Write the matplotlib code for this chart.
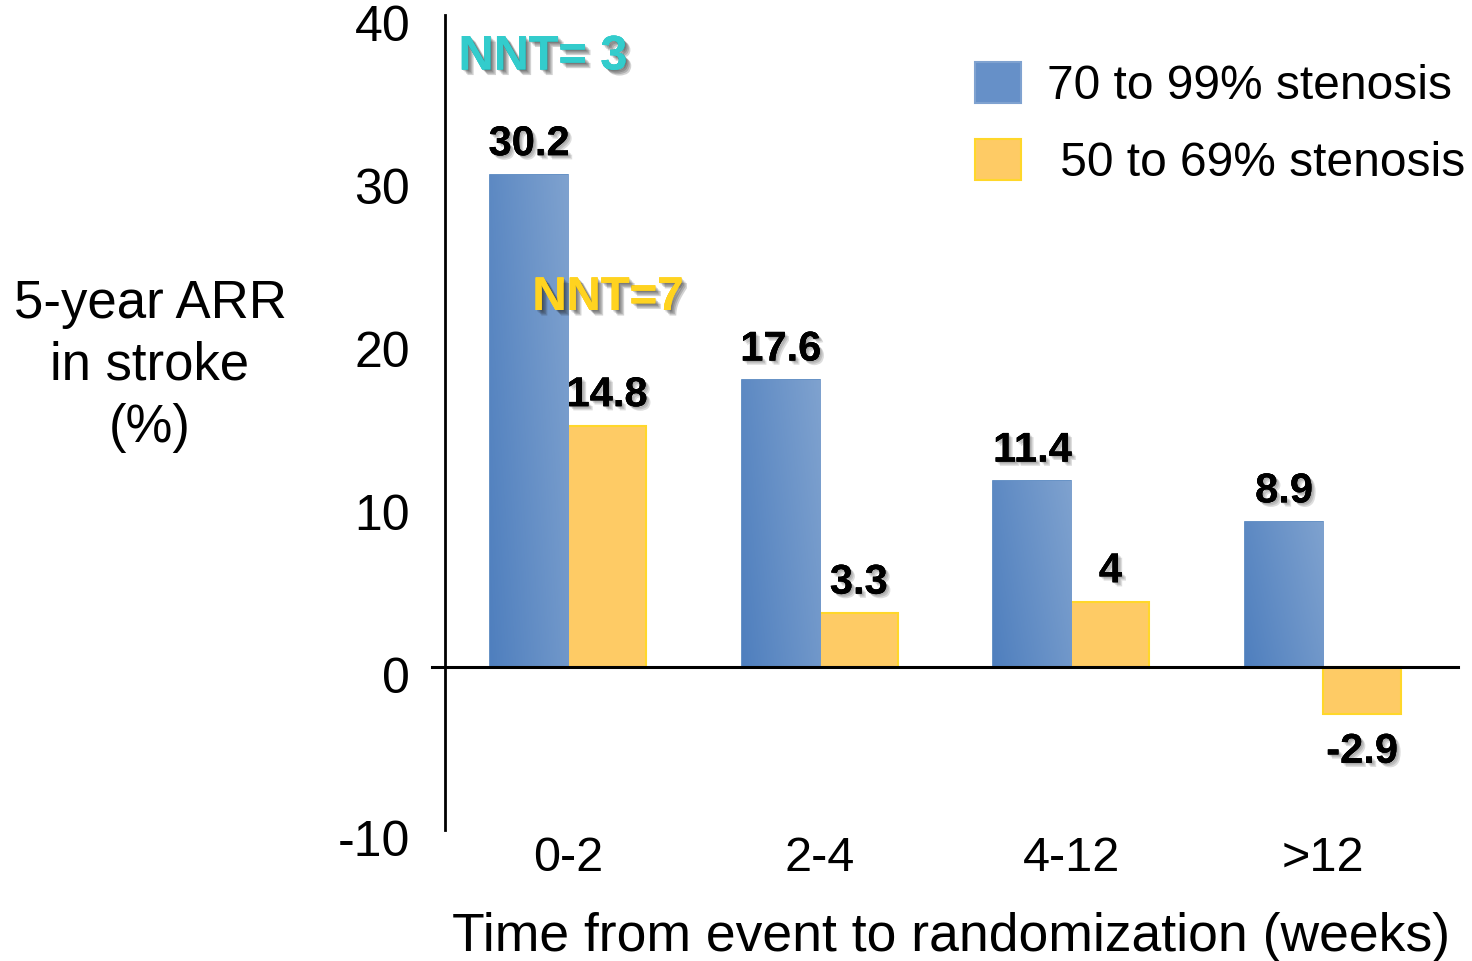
import numpy as np
import matplotlib.pyplot as plt
import matplotlib.patheffects as pe
import matplotlib.transforms as mtransforms
from matplotlib.patches import Patch
from matplotlib.colors import LinearSegmentedColormap

plt.rcParams['font.family'] = ['Liberation Sans', 'DejaVu Sans']
plt.rcParams['axes.unicode_minus'] = False

# data
groups = ['0-2', '2-4', '4-12', '>12']
severe = [30.2, 17.6, 11.4, 8.9]      # 70 to 99% stenosis
moderate = [14.8, 3.3, 4, -2.9]       # 50 to 69% stenosis
severe_lbl = ['30.2', '17.6', '11.4', '8.9']
moderate_lbl = ['14.8', '3.3', '4', '-2.9']
nnt_severe = 'NNT= 3'
nnt_moderate = 'NNT=7'

blue_dark = '#4F7FBE'
blue_light = '#7FA2CF'
yellow = '#FECB65'

fig = plt.figure(figsize=(14.72, 9.61), dpi=100)
ax = fig.add_axes([445 / 1472, 1 - 830 / 961, (1458 - 445) / 1472, (830 - 15) / 961])

x = np.arange(len(groups))
w = 0.31
b1 = ax.bar(x - w / 2, severe, w, color=blue_dark, edgecolor='#4A7EBB', linewidth=1.2, zorder=2)
b2 = ax.bar(x + w / 2, moderate, w, color=yellow, edgecolor='#FFD72A', linewidth=1.5, zorder=2)

# gradient fill on the blue bars
gx, gy = np.meshgrid(np.linspace(0, 1, 64), np.linspace(0, 1, 64))
grad = 0.7 * gx + 0.3 * gy
cmap = LinearSegmentedColormap.from_list('bl', [blue_dark, blue_light])
for r in b1:
    x0, y0 = r.get_x(), r.get_y()
    im = ax.imshow(grad, cmap=cmap, extent=[x0, x0 + r.get_width(), y0 + r.get_height(), y0],
                   origin='upper', aspect='auto', zorder=2.1, interpolation='bilinear')
    im.set_clip_path(r)

ax.set_xlim(-0.489, 3.536)
ax.set_ylim(-10, 40)
ax.set_yticks([-10, 0, 10, 20, 30, 40])
ax.set_xticks(x)
ax.set_xticklabels(groups)
ax.tick_params(axis='y', length=0, pad=25, labelsize=36)
ax.tick_params(axis='x', length=0, pad=4, labelsize=35)
shift = mtransforms.ScaledTranslation(0, -0.08, fig.dpi_scale_trans)
for lbl in ax.get_yticklabels():
    lbl.set_transform(lbl.get_transform() + shift)
for s in ['top', 'right', 'bottom']:
    ax.spines[s].set_visible(False)
ax.spines['left'].set_linewidth(2)
ax.axhline(0, color='black', lw=2.2, xmin=-0.013, xmax=1, clip_on=False, zorder=3)

ax.set_xlabel('Time from event to randomization (weeks)', fontsize=38.5, labelpad=23)
fig.text(150 / 1472, 1 - 366 / 961, '5-year ARR\nin stroke\n(%)', fontsize=38,
         ha='center', va='center', multialignment='center', linespacing=1.3)

def soft_shadow(color, alpha, n):
    return [pe.withSimplePatchShadow(offset=(k, -k), shadow_rgbFace=color, alpha=alpha)
            for k in range(1, n + 1)]

shadow = soft_shadow('#444444', 0.18, 3)
for xi, v, t in zip(x - w / 2, severe, severe_lbl):
    ax.annotate(t, (xi, v), xytext=(0, 22), textcoords='offset points', ha='center', va='center',
                fontsize=30, fontweight='bold', path_effects=shadow)
for xi, v, t in zip(x + w / 2, moderate, moderate_lbl):
    off = 22 if v >= 0 else -27
    ax.annotate(t, (xi, v), xytext=(0, off), textcoords='offset points', ha='center', va='center',
                fontsize=30, fontweight='bold', path_effects=shadow)

shadow2 = soft_shadow('#222222', 0.2, 4)
fig.text(543 / 1472, 1 - 57 / 961, nnt_severe, fontsize=35, fontweight='bold', color='#33CCCC',
         ha='center', va='center', path_effects=shadow2)
fig.text(608 / 1472, 1 - 298 / 961, nnt_moderate, fontsize=34, fontweight='bold', color='#FFD320',
         ha='center', va='center', path_effects=shadow2)

handles = [Patch(facecolor='#6690C8', edgecolor='#7FA2D0', lw=1.5),
           Patch(facecolor=yellow, edgecolor='#FFD72A', lw=1.5)]
ax.legend(handles, ['70 to 99% stenosis', ' 50 to 69% stenosis'], loc='upper left',
          bbox_to_anchor=(975 / 1472, 1 - 62 / 961), bbox_transform=fig.transFigure,
          frameon=False, fontsize=34.5, handlelength=0.95, handleheight=0.95,
          handletextpad=0.55, labelspacing=0.62, borderpad=0, borderaxespad=0)

fig.savefig('out.png', dpi=100)
